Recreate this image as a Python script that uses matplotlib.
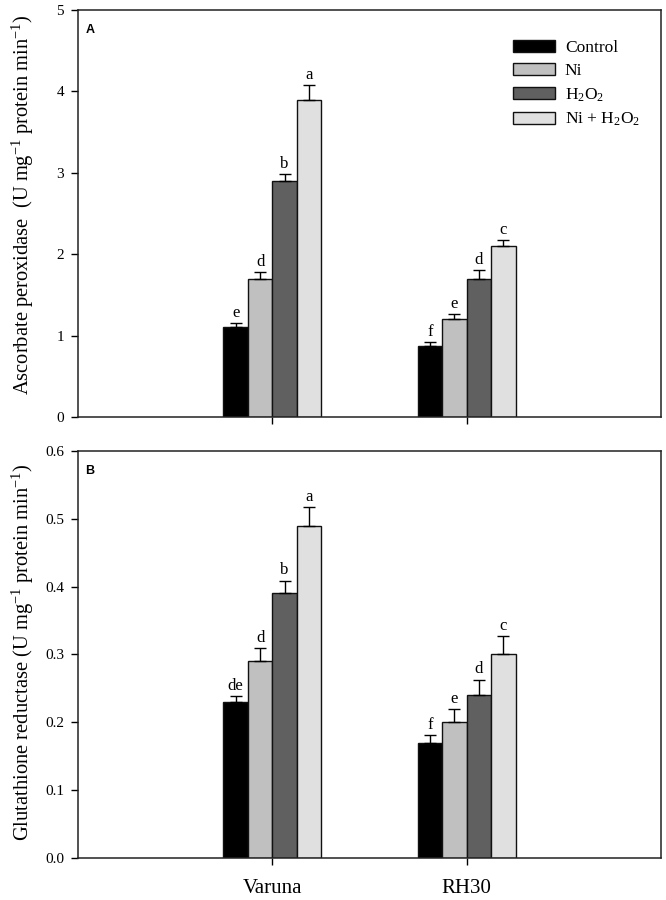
import matplotlib
matplotlib.use("Agg")
import matplotlib.pyplot as plt
import numpy as np
from matplotlib.patches import Patch

plt.rcParams['font.family'] = ['Liberation Serif', 'DejaVu Serif']
plt.rcParams['mathtext.fontset'] = 'custom'
plt.rcParams['mathtext.rm'] = 'Liberation Serif'
plt.rcParams['mathtext.it'] = 'Liberation Serif:italic'
plt.rcParams['mathtext.bf'] = 'Liberation Serif:bold'

cultivars = ["Varuna", "RH30"]
treatments = ["Control", "Ni", r"H$_2$O$_2$", r"Ni + H$_2$O$_2$"]
colors = ["#000000", "#c0c0c0", "#606060", "#e0e0e0"]

# Panel A: Ascorbate peroxidase
apx_vals = [[1.10, 0.87], [1.70, 1.20], [2.90, 1.70], [3.90, 2.10]]
apx_err = [[0.055, 0.045], [0.08, 0.06], [0.09, 0.10], [0.18, 0.07]]
apx_lett = [["e", "f"], ["d", "e"], ["b", "d"], ["a", "c"]]

# Panel B: Glutathione reductase
gr_vals = [[0.23, 0.17], [0.29, 0.20], [0.39, 0.24], [0.49, 0.30]]
gr_err = [[0.009, 0.011], [0.02, 0.019], [0.019, 0.023], [0.028, 0.027]]
gr_lett = [["de", "f"], ["d", "e"], ["b", "d"], ["a", "c"]]

fig = plt.figure(figsize=(6.66, 9.0), dpi=100)
axA = fig.add_axes([0.1171, 0.5367, 0.8754, 0.4522])
axB = fig.add_axes([0.1171, 0.0467, 0.8754, 0.4522])

x = np.arange(len(cultivars))
w = 0.126
offsets = (np.arange(4) - 1.5) * w


def draw(ax, vals, errs, letts, ylim, yticks, fmt, ylabel, panel, ly):
    for i in range(4):
        v = np.array(vals[i])
        e = np.array(errs[i])
        xs = x + offsets[i]
        ax.bar(xs, v, width=w, color=colors[i], edgecolor="#111111",
               linewidth=1.0, zorder=2)
        ax.errorbar(xs, v, yerr=[np.zeros_like(e), e], fmt="none",
                    ecolor="black", elinewidth=1.0, capsize=4.2,
                    capthick=1.0, zorder=3)
        for xx, vv, ee, lt in zip(xs, v, e, letts[i]):
            ax.annotate(lt, (xx, vv + ee), xytext=(0, 1.5),
                        textcoords="offset points", ha="center", va="bottom",
                        fontsize=12)
    ax.set_xlim(-1, 2)
    ax.set_ylim(*ylim)
    ax.set_yticks(yticks)
    ax.set_yticklabels([fmt.format(t) for t in yticks], fontsize=11)
    ax.set_xticks(x)
    ax.tick_params(axis="y", direction="out", length=5, width=1.0, pad=5)
    ax.tick_params(axis="x", direction="out", length=5, width=1.0, pad=10)
    for s in ax.spines.values():
        s.set_linewidth(1.1)
        s.set_color("#222222")
    ax.set_ylabel(ylabel, fontsize=14.8)
    ax.yaxis.set_label_coords(-0.1166, ly)
    ax.yaxis.label.set_horizontalalignment("center")
    ax.yaxis.label.set_verticalalignment("top")
    ax.text(0.013, 0.965, panel, transform=ax.transAxes, fontsize=9,
            fontweight="bold", family="Liberation Sans", va="top", ha="left")


draw(axA, apx_vals, apx_err, apx_lett, (0, 5), [0, 1, 2, 3, 4, 5], "{:.0f}",
     r"Ascorbate peroxidase  (U mg$^{-1}$ protein min$^{-1}$)", "A", 0.52)
draw(axB, gr_vals, gr_err, gr_lett, (0, 0.6),
     [0.0, 0.1, 0.2, 0.3, 0.4, 0.5, 0.6], "{:.1f}",
     r"Glutathione reductase (U mg$^{-1}$ protein min$^{-1}$)", "B", 0.505)

axA.set_xticklabels([])
axB.set_xticklabels(cultivars, fontsize=15)

handles = [Patch(facecolor=c, edgecolor="#111111", linewidth=1.0) for c in colors]
axA.legend(handles, treatments, loc="upper left", bbox_to_anchor=(0.734, 0.943),
           frameon=False, fontsize=12.5, handlelength=2.4, handleheight=0.7,
           handletextpad=0.6, labelspacing=0.4, borderaxespad=0)

fig.savefig("out.png", dpi=100)
